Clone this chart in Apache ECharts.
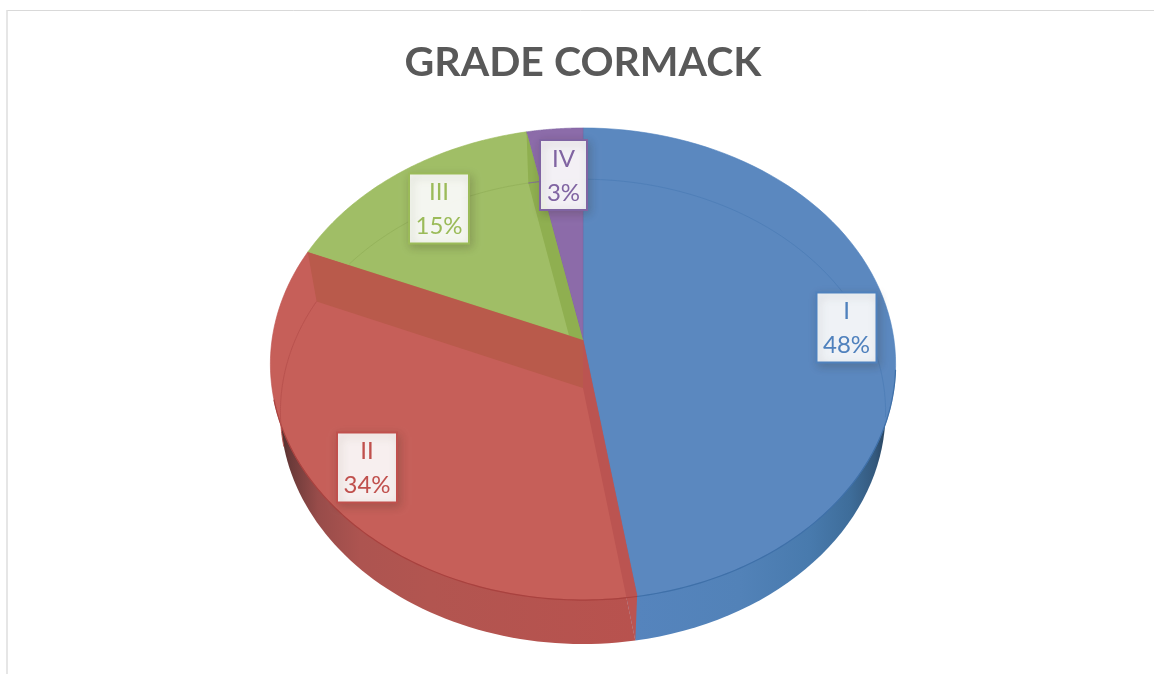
<!DOCTYPE html>
<html>
<head>
<meta charset="utf-8">
<title>GRADE CORMACK</title>
<script src="https://cdn.jsdelivr.net/npm/echarts@6/dist/echarts.min.js"></script>
<style>
  html, body { margin: 0; padding: 0; background: #fff; }
  #chart { width: 1154px; height: 674px; }
</style>
</head>
<body>
<div id="chart"></div>
<script>
// values, one decimal is an estimate (labels round them)
const grades = ['I', 'II', 'III', 'IV'];
const shares = [47.5, 33.9, 15.4, 3.2];

const faceColors = ['#5B88BF', '#C65F59', '#A0BE66', '#8C6BA9'];
const lineColors = ['#4F81BD', '#C0504D', '#9BBB59', '#8064A2'];
const labelSpots = [[846.5, 327.5], [367, 467.5], [439, 208.5], [563.5, 175]];

// the pie is tilted, so the polar unit circle gets projected on two planes
const POLAR = { x: 583, y: 364, r: 100 };
const TOP = { cx: 583, cy: 340, a: 311, b: 233.6, k: 0.1017 };
const BASE = { cx: 583, cy: 388, a: 301, b: 230, k: 0.1017 };

let sum = 0;
const rows = shares.map((v, i) => {
  const row = [i, sum, sum + v];
  sum += v;
  return row;
});

function project(api, plane, pct, r) {
  const p = api.coord([r === undefined ? 1 : r, pct]);
  const X = (p[0] - POLAR.x) / POLAR.r;
  const Y = (POLAR.y - p[1]) / POLAR.r;
  const w = 1 + plane.k * Y;
  return [plane.cx + plane.a * X / w, plane.cy - plane.b * Y / w];
}

function arc(api, plane, from, to) {
  const pts = [];
  const n = 80;
  for (let i = 0; i <= n; i++) {
    pts.push(project(api, plane, from + (to - from) * i / n));
  }
  return pts;
}

function grad(stops) {
  const x0 = stops[0][0], x1 = stops[stops.length - 1][0];
  return new echarts.graphic.LinearGradient(x0, 0, x1, 0,
    stops.map(s => ({ offset: (s[0] - x0) / (x1 - x0), color: s[1] })), true);
}

const wallFill = [
  grad([[636, '#5584BD'], [740, '#5282B8'], [810, '#487AAD'], [850, '#3E6D9A'], [875, '#34597D'], [888, '#263F58']]),
  grad([[277, '#452A29'], [290, '#6B3A39'], [318, '#984C4A'], [360, '#AD5450'], [430, '#B25550'], [636, '#B8524E']]),
  '#9BBB59',
  '#8064A2'
];

// outer side of the cylinder, the top faces hide all but the front of it
function renderWall(params, api) {
  const i = api.value(0);
  const pts = arc(api, BASE, api.value(1), api.value(2));
  pts.push(project(api, BASE, 0, 0));
  return { type: 'polygon', shape: { points: pts }, style: { fill: wallFill[i] } };
}

function renderFace(params, api) {
  const i = api.value(0);
  const pts = arc(api, TOP, api.value(1), api.value(2));
  pts.push(project(api, TOP, 0, 0));
  return {
    type: 'polygon',
    shape: { points: pts },
    style: { fill: faceColors[i], stroke: lineColors[i], lineWidth: 0.6 }
  };
}

function cutWall(api, pct, fill, z2) {
  return {
    type: 'polygon',
    z2: z2,
    shape: {
      points: [
        project(api, TOP, 0, 0),
        project(api, TOP, pct),
        project(api, BASE, pct),
        project(api, BASE, 0, 0)
      ]
    },
    style: { fill: fill }
  };
}

// cut sides between the slices
function renderCuts(params, api) {
  const i = api.value(0);
  const children = [];
  if (i === 1) {
    children.push(cutWall(api, api.value(1), '#BB5451', 3));
    children.push(cutWall(api, api.value(2), '#B95A4B', 3));
  }
  if (i === 2) {
    children.push(cutWall(api, api.value(2), '#8FAF50', 2));
  }
  return { type: 'group', children: children };
}

// rim of the top face and the base seen faintly through it
function renderRims(params, api) {
  const i = api.value(0);
  const start = api.value(1), end = api.value(2);
  const faint = { I: '#4F7FB8', II: '#B9524E', III: '#95B35B', IV: '#7F62A0' }[grades[i]];
  const children = [];
  const addLine = (pts, stroke, width) => children.push({
    type: 'polyline',
    shape: { points: pts },
    style: { fill: 'none', stroke: stroke, lineWidth: width }
  });
  if (i === 0) {
    addLine(arc(api, BASE, start, 27), faint, 1);
    addLine(arc(api, TOP, 27, end), '#3F70A8', 1.2);
  }
  if (i === 1) {
    addLine(arc(api, TOP, start, 71), '#A8423F', 1.2);
    addLine(arc(api, BASE, 71, end), faint, 1);
  }
  if (i === 2) {
    // only the piece above the edge shared with the red slice shows
    const a = project(api, TOP, 0, 0), b = project(api, TOP, start);
    const pts = arc(api, BASE, start, end).filter(p =>
      p[1] < a[1] + (b[1] - a[1]) * (p[0] - a[0]) / (b[0] - a[0]));
    addLine(pts, faint, 1);
  }
  if (i === 3) {
    addLine(arc(api, BASE, start, end), faint, 1);
  }
  return { type: 'group', children: children };
}

function renderLabel(params, api) {
  const i = api.value(0);
  const c = labelSpots[i];
  const w = i === 3 ? 47 : 60;
  const h = 70;
  return {
    type: 'group',
    children: [
      {
        type: 'rect',
        shape: { x: c[0] - w / 2, y: c[1] - h / 2, width: w, height: h },
        style: {
          fill: 'rgba(255,255,255,0.91)',
          stroke: lineColors[i],
          lineWidth: 2,
          shadowBlur: 9,
          shadowOffsetX: 2,
          shadowOffsetY: 3,
          shadowColor: 'rgba(60,50,40,0.25)'
        }
      },
      {
        type: 'text',
        x: c[0],
        y: c[1] + 1,
        style: {
          text: grades[i] + '\n' + Math.round(shares[i]) + '%',
          fill: lineColors[i],
          font: '24px Lato',
          lineHeight: 34,
          align: 'center',
          verticalAlign: 'middle'
        }
      }
    ]
  };
}

function layer(name, z, renderItem) {
  return {
    type: 'custom',
    name: name,
    coordinateSystem: 'polar',
    z: z,
    silent: true,
    animation: false,
    clip: false,
    encode: { angle: 2, radius: 0 },
    data: rows,
    renderItem: renderItem
  };
}

const myChart = echarts.init(document.getElementById('chart'));
myChart.setOption({
  animation: false,
  backgroundColor: '#fff',
  title: {
    text: 'GRADE CORMACK',
    left: 578,
    top: 37,
    textAlign: 'center',
    textStyle: { color: '#595959', fontFamily: 'Lato', fontWeight: 'bold', fontSize: 41 }
  },
  polar: { center: [POLAR.x, POLAR.y], radius: [0, POLAR.r] },
  angleAxis: { type: 'value', min: 0, max: 100, startAngle: 90, clockwise: true, show: false },
  radiusAxis: { type: 'value', min: 0, max: 1, show: false },
  graphic: [
    { type: 'line', shape: { x1: 7, y1: 10.5, x2: 1154, y2: 10.5 }, style: { stroke: '#D9D9D9', lineWidth: 1 } },
    { type: 'line', shape: { x1: 7, y1: 10, x2: 7, y2: 674 }, style: { stroke: '#DEDEDE', lineWidth: 1.5 } }
  ],
  series: [
    layer('wall', 1, renderWall),
    layer('face', 2, renderFace),
    layer('cuts', 3, renderCuts),
    layer('rims', 4, renderRims),
    layer('labels', 5, renderLabel)
  ]
});
</script>
</body>
</html>
